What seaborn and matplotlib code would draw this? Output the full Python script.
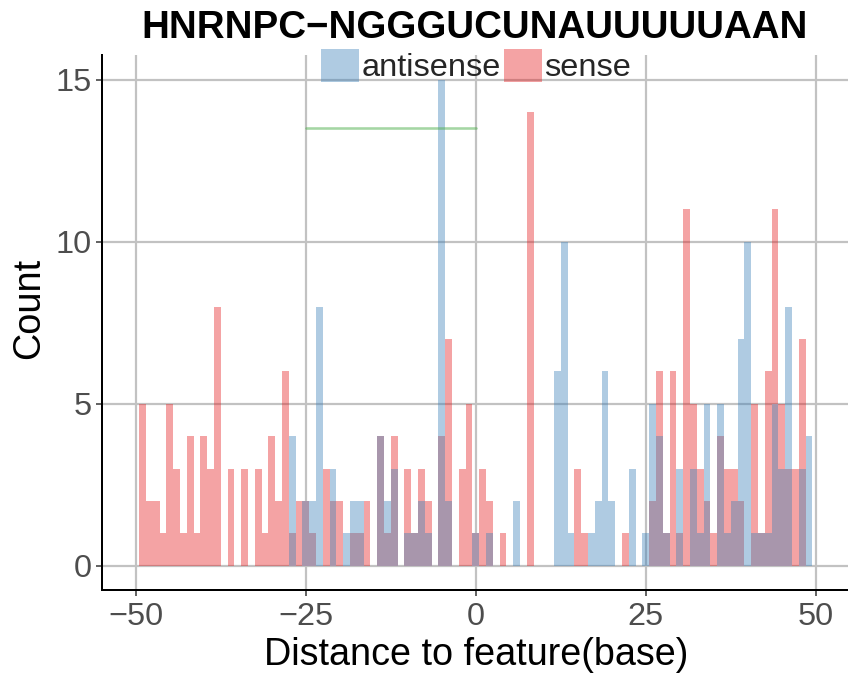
import numpy as np
import pandas as pd
import matplotlib
matplotlib.use("Agg")
import matplotlib.pyplot as plt
from matplotlib.patches import Patch
import seaborn as sns

# ---------------- data ----------------
positions = list(range(-49, 50))

sense = [5, 2, 2, 1, 5, 3, 1, 4, 1, 4,      # -49 .. -40
         3, 8, 0, 3, 0, 3, 0, 3, 1, 4,      # -39 .. -30
         2, 6, 1, 2, 2, 1, 0, 3, 2, 2,      # -29 .. -20
         0, 1, 1, 2, 0, 4, 1, 4, 0, 3,      # -19 .. -10
         1, 3, 2, 0, 4, 7, 0, 3, 5,         # -9 .. -1
         1, 3, 2, 0, 1, 0, 0, 0, 14, 0,     # 0 .. 9
         0, 0, 0, 0, 0, 3, 1, 0, 0, 0,      # 10 .. 19
         0, 0, 1, 0, 0, 0, 2, 6, 1, 6,      # 20 .. 29
         1, 11, 5, 3, 2, 1, 4, 3, 3, 2,     # 30 .. 39
         0, 5, 1, 6, 11, 5, 3, 3, 7, 0]     # 40 .. 49

antisense = [0, 0, 0, 0, 0, 0, 0, 0, 0, 0,  # -49 .. -40
             0, 0, 0, 0, 0, 0, 0, 0, 0, 0,  # -39 .. -30
             0, 0, 4, 0, 2, 2, 8, 0, 3, 0,  # -29 .. -20
             1, 2, 2, 0, 0, 4, 2, 3, 0, 1,  # -19 .. -10
             1, 2, 1, 0, 15, 2, 0, 0, 0,    # -9 .. -1
             1, 0, 1, 0, 0, 0, 2, 0, 0, 0,  # 0 .. 9
             0, 0, 6, 10, 1, 0, 0, 1, 2, 6, # 10 .. 19
             2, 0, 0, 3, 0, 1, 5, 4, 1, 0,  # 20 .. 29
             3, 0, 3, 1, 5, 0, 5, 1, 2, 7,  # 30 .. 39
             10, 1, 1, 1, 5, 3, 8, 0, 3, 4] # 40 .. 49

strand_names = ["antisense", "sense"]
motif_x = [-25, 0]
motif_y = [13.5, 13.5]
title_text = "HNRNPC\u2212NGGGUCUNAUUUUUAAN"
x_ticks = [-50, -25, 0, 25, 50]
y_ticks = [0, 5, 10, 15]

# ---------------- styling ----------------
sns.set_theme(style="white")
plt.rcParams["font.family"] = ["Liberation Sans", "DejaVu Sans"]
plt.rcParams["axes.unicode_minus"] = True

colors = {"antisense": "#377EB8", "sense": "#E41A1C"}
overlap_color = "#A896AC"
px = 72 / 100.0  # points per pixel at dpi 100

df = pd.DataFrame({
    "pos": positions * 2,
    "count": antisense + sense,
    "strand": ["antisense"] * len(positions) + ["sense"] * len(positions),
})
overlap = np.minimum(np.array(antisense), np.array(sense))

fig = plt.figure(figsize=(8.48, 6.77), dpi=100)
ax = fig.add_axes([101.7 / 848, 87 / 677, 748 / 848, 534.6 / 677])

sns.histplot(data=df, x="pos", weights="count", hue="strand",
             hue_order=strand_names, palette=colors, alpha=0.4,
             binwidth=1, binrange=(-49.5, 49.5), multiple="layer",
             element="bars", linewidth=0, legend=False, ax=ax)
sns.histplot(x=positions, weights=overlap, binwidth=1, binrange=(-49.5, 49.5),
             color=overlap_color, alpha=1.0, linewidth=0, ax=ax)

sns.lineplot(x=motif_x, y=motif_y, color="#4DAF4A", alpha=0.5,
             linewidth=2.6 * px, ax=ax)

ax.set_xlim(-55, 55)
ax.set_ylim(-0.75, 15.75)
ax.set_xticks(x_ticks)
ax.set_yticks(y_ticks)
ax.set_axisbelow(True)
ax.grid(True, color="#C2C2C2", linewidth=2.2 * px)

for s in ["top", "right"]:
    ax.spines[s].set_visible(False)
for s in ["left", "bottom"]:
    ax.spines[s].set_color("black")
    ax.spines[s].set_linewidth(2.0 * px)

ax.tick_params(axis="both", which="major", labelsize=32.5 * px,
               labelcolor="#4D4D4D", color="#333333", length=6 * px,
               width=1.5 * px, direction="out", bottom=True, left=True)
ax.tick_params(axis="x", pad=6 * px)
ax.tick_params(axis="y", pad=4 * px)

ax.set_xlabel("")
ax.set_ylabel("")
fig.text(476 / 848, 1 - 655 / 677, "Distance to feature(base)",
         ha="center", va="center", fontsize=37.8 * px, color="black")
fig.text(29 / 848, 1 - 308 / 677, "Count", rotation=90,
         ha="center", va="center", fontsize=37.8 * px, color="black")
fig.text(475 / 848, 1 - 28 / 677, title_text, ha="center", va="center",
         fontsize=38.5 * px, fontweight="bold", color="black")

handles = [Patch(facecolor=colors[n], alpha=0.4, edgecolor="none", label=n)
           for n in strand_names]
fig.legend(handles=handles, loc="center", ncol=2,
           bbox_to_anchor=(476 / 848, 1 - 66 / 677), frameon=False,
           fontsize=32.5 * px, handlelength=1.17, handleheight=1.17,
           handletextpad=0.08, columnspacing=0.1, borderpad=0,
           borderaxespad=0)

fig.savefig("out.png", dpi=100)
